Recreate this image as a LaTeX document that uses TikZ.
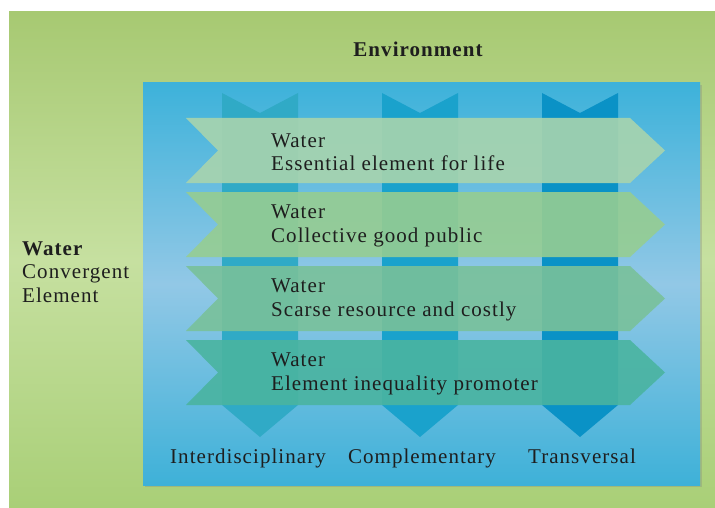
\documentclass[tikz,border=0pt]{standalone}
\usepackage{fontspec}
\setmainfont{Liberation Serif}[LetterSpace=5]
\usetikzlibrary{shadows}
\definecolor{meadowtop}{HTML}{A7C972}
\definecolor{meadowmid}{HTML}{C6E0A0}
\definecolor{meadowbot}{HTML}{A9CF77}
\definecolor{skytop}{HTML}{3DB2DA}
\definecolor{skymid}{HTML}{92C8E6}
\definecolor{skybot}{HTML}{3EB1D8}
\definecolor{columnA}{HTML}{30AAC6}
\definecolor{columnB}{HTML}{1AA2CC}
\definecolor{columnC}{HTML}{0A92C6}
\definecolor{bandA}{HTML}{A8D4AE}
\definecolor{bandB}{HTML}{96CD92}
\definecolor{bandC}{HTML}{79C19A}
\definecolor{bandD}{HTML}{4AB4A0}
\definecolor{inktext}{HTML}{1E1E1E}

\begin{document}
\begin{tikzpicture}[x=1pt,y=-1pt,
    label text/.style={inktext, inner sep=0pt, font=\fontsize{21}{23.5}\selectfont},
    band text/.style={label text, anchor=west, align=left}]
    \useasboundingbox (0,0) rectangle (715,508);

    % Green ground
    \shade[top color=meadowtop, bottom color=meadowbot, middle color=meadowmid] (9,12) rectangle (715,508);

    % Blue panel
    \shade[drop shadow={shadow xshift=2pt, shadow yshift=-2pt, opacity=0.3},
        top color=skytop, bottom color=skybot, middle color=skymid] (143,83) rectangle (700,485);

    % Vertical columns
    \foreach \cx/\col in {260/columnA, 420/columnB, 580/columnC} {
        \fill[\col] ({\cx-38},93) -- (\cx,113) -- ({\cx+38},93) -- ({\cx+38},405)
            -- (\cx,437) -- ({\cx-38},405) -- cycle;
    }

    % Horizontal bands
    \foreach \ty/\col in {118/bandA, 192/bandB, 266/bandC, 340/bandD} {
        \fill[\col, fill opacity=0.9] (186,\ty) -- (630,\ty) -- (665,{\ty+32.5})
            -- (630,{\ty+65}) -- (186,{\ty+65}) -- (218,{\ty+32.5}) -- cycle;
    }

    % Band labels
    \node[band text] (life) at (271,152) {Water\\Essential element for life};
    \node[band text] (good) at (271,226) {Water\\Collective good public};
    \node[band text] (scarce) at (271,300) {Water\\Scarse resource and costly};
    \node[band text] (unequal) at (271,374) {Water\\Element inequality promoter};

    % Column labels
    \node[label text, anchor=base] (inter) at (248,463) {Interdisciplinary};
    \node[label text, anchor=base] (compl) at (422,463) {Complementary};
    \node[label text, anchor=base] (trans) at (582,463) {Transversal};

    % Outer labels
    \node[label text, anchor=base, font=\fontsize{21}{23.5}\selectfont\bfseries] (env) at (418,57) {Environment};
    \node[label text, anchor=west, align=left] (conv) at (22,272) {\textbf{Water}\\Convergent\\Element};
\end{tikzpicture}
\end{document}
